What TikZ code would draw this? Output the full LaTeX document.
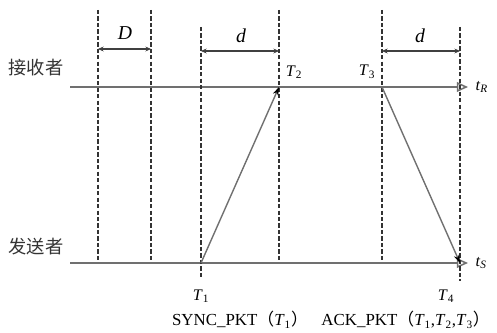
\documentclass[tikz,border=0pt]{standalone}
\usepackage{fontspec}
\setmainfont{Liberation Serif}
\newfontfamily\cjk{Noto Sans CJK SC}
\usepackage{tikz}
\usetikzlibrary{arrows.meta}
\definecolor{axisGray}{HTML}{707070}
\newcommand{\tlab}[2]{\textit{#1}\textsubscript{#2}}

\begin{document}
\begin{tikzpicture}[x=0.025cm, y=-0.025cm,
    axis/.style={axisGray, line width=1.1pt, -{Triangle[open, length=8pt, width=7pt]}},
    guide/.style={black!80, line width=1.2pt, dash pattern=on 3pt off 1.6pt},
    msg/.style={axisGray, line width=1pt, -{Stealth[length=6pt, width=4pt, black]}},
    span/.style={black!75, line width=0.8pt, {Stealth[length=4pt, width=3.5pt]}-{Stealth[length=4pt, width=3.5pt]}},
    lab/.style={font=\fontsize{11.5}{13}\selectfont},
    pkt/.style={font=\fontsize{12}{14}\selectfont, inner sep=0pt},
    role/.style={font=\cjk\fontsize{13}{15}\selectfont, text=black!80}]
    \useasboundingbox (0,0) rectangle (497,333);

    % time axes
    \coordinate (r0) at (70,87);
    \coordinate (r1) at (468,87);
    \coordinate (s0) at (70,263);
    \coordinate (s1) at (468,263);
    \draw[axis] (r0) -- (r1);
    \draw[axis] (s0) -- (s1);
    \node[lab, anchor=west] (tR) at (r1) {\,\textit{t}\textsubscript{\textit{R}}};
    \node[lab, anchor=west] (tS) at (s1) {\,\textit{t}\textsubscript{\textit{S}}};
    \node[role] (recv) at (36,68) {接收者};
    \node[role] (send) at (36,247) {发送者};

    % dashed guides
    \foreach \x/\ya/\yb in {98/10/262, 151/10/262, 201/27/278, 279/10/262, 382/10/262, 460/27/281}
        \draw[guide] (\x,\ya) -- (\x,\yb);

    % event times
    \coordinate (T1) at (201,263);
    \coordinate (T2) at (279,87);
    \coordinate (T3) at (382,87);
    \coordinate (T4) at (460,263);
    \draw[msg] (T1) -- (T2);
    \draw[msg] (T3) -- (T4);

    \node[lab] (t1) at (201,296) {\tlab{T}{1}};
    \node[lab] (t2) at (294,72) {\tlab{T}{2}};
    \node[lab] (t3) at (367,72) {\tlab{T}{3}};
    \node[lab] (t4) at (446,296) {\tlab{T}{4}};

    % intervals
    \coordinate (D0) at (98,49);
    \coordinate (D1) at (151,49);
    \coordinate (d0) at (201,51);
    \coordinate (d1) at (279,51);
    \coordinate (e0) at (382,51);
    \coordinate (e1) at (460,51);
    \draw[span] (D0) -- (D1);
    \draw[span] (d0) -- (d1);
    \draw[span] (e0) -- (e1);
    \node[font=\fontsize{14}{16}\selectfont] (Dlab) at (125,33) {\textit{D}};
    \node[font=\fontsize{14}{16}\selectfont] (dlab) at (241,36) {\textit{d}};
    \node[font=\fontsize{14}{16}\selectfont] (elab) at (420,36) {\textit{d}};

    % packets
    \node[pkt] (sync) at (240,320) {SYNC\_PKT{\cjk（}\tlab{T}{1}{\cjk）}};
    \node[pkt, anchor=east] (ack) at (490,320) {ACK\_PKT{\cjk（}\tlab{T}{1},\tlab{T}{2},\tlab{T}{3}{\cjk）}};
\end{tikzpicture}
\end{document}
